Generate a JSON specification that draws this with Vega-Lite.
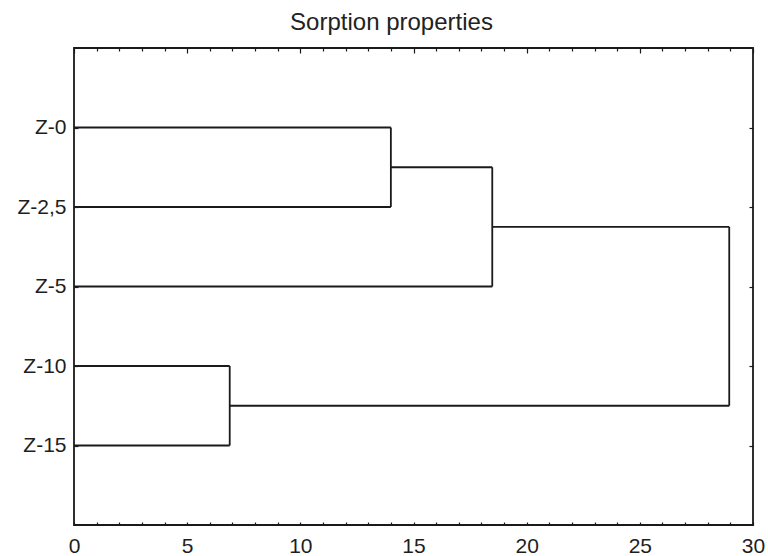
{
  "$schema": "https://vega.github.io/schema/vega-lite/v6.json",
  "autosize": {"type": "none"},
  "padding": {"left": 74, "top": 48, "right": 15, "bottom": 31},
  "width": 679,
  "height": 477,
  "background": "white",
  "title": {
    "text": "Sorption properties",
    "font": "Liberation Sans",
    "fontSize": 24,
    "fontWeight": "normal",
    "color": "#222222",
    "anchor": "middle",
    "baseline": "alphabetic",
    "offset": 20,
    "dy": 27,
    "dx": -22
  },
  "config": {
    "view": {"stroke": "#1a1a1a", "strokeWidth": 1.8},
    "axis": {
      "domain": false,
      "grid": false,
      "labelFont": "Liberation Sans",
      "labelFontSize": 21,
      "labelColor": "#1e1e1e",
      "tickColor": "#1a1a1a",
      "tickWidth": 1.2,
      "title": null
    }
  },
  "data": {
    "values": [
      {"x1": 0, "x2": 14.0, "y1": 1, "y2": 1},
      {"x1": 0, "x2": 14.0, "y1": 2, "y2": 2},
      {"x1": 14.0, "x2": 14.0, "y1": 1, "y2": 2},
      {"x1": 14.0, "x2": 18.48, "y1": 1.5, "y2": 1.5},
      {"x1": 0, "x2": 18.48, "y1": 3, "y2": 3},
      {"x1": 18.48, "x2": 18.48, "y1": 1.5, "y2": 3},
      {"x1": 18.48, "x2": 28.95, "y1": 2.25, "y2": 2.25},
      {"x1": 0, "x2": 6.88, "y1": 4, "y2": 4},
      {"x1": 0, "x2": 6.88, "y1": 5, "y2": 5},
      {"x1": 6.88, "x2": 6.88, "y1": 4, "y2": 5},
      {"x1": 6.88, "x2": 28.95, "y1": 4.5, "y2": 4.5},
      {"x1": 28.95, "x2": 28.95, "y1": 2.25, "y2": 4.5}
    ]
  },
  "layer": [
    {
      "mark": {"type": "rule", "color": "#1a1a1a", "strokeWidth": 1.8},
      "encoding": {
        "x": {
          "field": "x1", "type": "quantitative",
          "scale": {"domain": [0, 30], "nice": false, "zero": false},
          "axis": {
            "orient": "bottom",
            "values": [0,1,2,3,4,5,6,7,8,9,10,11,12,13,14,15,16,17,18,19,20,21,22,23,24,25,26,27,28,29,30],
            "labelExpr": "datum.value % 5 === 0 ? datum.label : ''",
            "tickSize": -3,
            "labelPadding": 13,
            "labelFlush": false,
            "labelOverlap": false
          }
        },
        "x2": {"field": "x2"},
        "y": {
          "field": "y1", "type": "quantitative",
          "scale": {"domain": [0, 6], "nice": false, "zero": false, "reverse": true},
          "axis": {
            "orient": "left",
            "values": [1, 2, 3, 4, 5],
            "labelExpr": "['', 'Z-0', 'Z-2,5', 'Z-5', 'Z-10', 'Z-15'][datum.value]",
            "tickSize": -4,
            "labelPadding": 12,
            "labelOverlap": false
          }
        },
        "y2": {"field": "y2"}
      }
    },
    {
      "mark": {"type": "rule", "opacity": 0},
      "encoding": {
        "x": {
          "field": "x1", "type": "quantitative",
          "scale": {"domain": [0, 30], "nice": false, "zero": false},
          "axis": {
            "orient": "top",
            "values": [0,1,2,3,4,5,6,7,8,9,10,11,12,13,14,15,16,17,18,19,20,21,22,23,24,25,26,27,28,29,30],
            "labels": false,
            "tickSize": {"condition": {"test": "datum.value % 5 === 0", "value": -5}, "value": -3}
          }
        },
        "x2": {"field": "x2"},
        "y": {
          "field": "y1", "type": "quantitative",
          "scale": {"domain": [0, 6], "nice": false, "zero": false, "reverse": true},
          "axis": {
            "orient": "right",
            "values": [1, 2, 3, 4, 5],
            "labels": false,
            "tickSize": -4
          }
        },
        "y2": {"field": "y2"}
      }
    }
  ],
  "resolve": {"axis": {"x": "independent", "y": "independent"}}
}
